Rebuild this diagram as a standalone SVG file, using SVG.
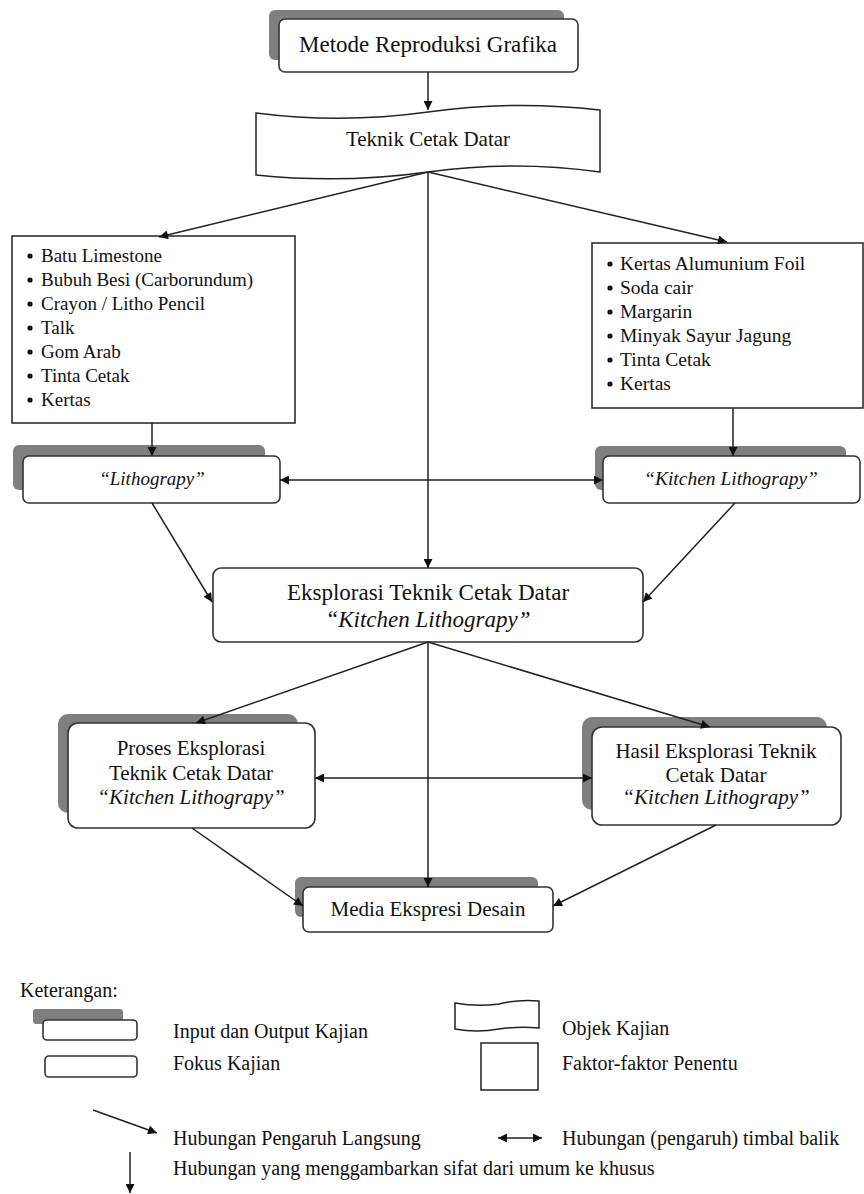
<svg xmlns="http://www.w3.org/2000/svg" width="864" height="1194" viewBox="0 0 864 1194">
<style>
  text { font-family: "Liberation Serif", "Times New Roman", serif; fill: #111111; }
  .it { font-style: italic; }
  .mid { text-anchor: middle; }
  .shadow { fill: #7f7f7f; }
  .box { fill: #ffffff; stroke: #333333; stroke-width: 1.6; }
  .sq { fill: #ffffff; stroke: #222222; stroke-width: 1.5; }
  .con line, .con path { stroke: #222222; stroke-width: 1.5; fill: none; }
  .dot { fill: #111111; }
</style>
<defs>
  <marker id="ah" viewBox="0 0 10 10" refX="10" refY="5" markerWidth="11" markerHeight="9" orient="auto-start-reverse" markerUnits="userSpaceOnUse">
    <path d="M0,0 L10,5 L0,10 z" fill="#111111"/>
  </marker>
</defs>

<rect width="864" height="1194" fill="#ffffff"/>

<g id="metode">
  <rect class="shadow" x="269" y="10" width="295" height="50" rx="6"/>
  <rect class="box" x="279" y="19" width="299" height="53" rx="6"/>
  <text class="mid" x="428" y="52" font-size="23">Metode Reproduksi Grafika</text>
</g>

<g id="teknik">
  <path class="sq" d="M256,113 Q342,124 428,112 Q514,100 600,110 L600,172 Q514,160 428,172 Q342,184 256,175 Z"/>
  <text class="mid" x="428" y="146" font-size="21">Teknik Cetak Datar</text>
</g>

<g id="faktor-kiri">
  <rect class="sq" x="12" y="236" width="283" height="187"/>
  <g font-size="19">
    <circle class="dot" cx="30" cy="256" r="2.6"/><text x="41" y="262">Batu Limestone</text>
    <circle class="dot" cx="30" cy="280" r="2.6"/><text x="41" y="286">Bubuh Besi (Carborundum)</text>
    <circle class="dot" cx="30" cy="304" r="2.6"/><text x="41" y="310">Crayon / Litho Pencil</text>
    <circle class="dot" cx="30" cy="328" r="2.6"/><text x="41" y="334">Talk</text>
    <circle class="dot" cx="30" cy="352" r="2.6"/><text x="41" y="358">Gom Arab</text>
    <circle class="dot" cx="30" cy="376" r="2.6"/><text x="41" y="382">Tinta Cetak</text>
    <circle class="dot" cx="30" cy="400" r="2.6"/><text x="41" y="406">Kertas</text>
  </g>
</g>

<g id="faktor-kanan">
  <rect class="sq" x="592" y="243" width="271" height="165"/>
  <g font-size="19.5">
    <circle class="dot" cx="610" cy="264" r="2.6"/><text x="620" y="270">Kertas Alumunium Foil</text>
    <circle class="dot" cx="610" cy="288" r="2.6"/><text x="620" y="294">Soda cair</text>
    <circle class="dot" cx="610" cy="312" r="2.6"/><text x="620" y="318">Margarin</text>
    <circle class="dot" cx="610" cy="336" r="2.6"/><text x="620" y="342">Minyak Sayur Jagung</text>
    <circle class="dot" cx="610" cy="360" r="2.6"/><text x="620" y="366">Tinta Cetak</text>
    <circle class="dot" cx="610" cy="384" r="2.6"/><text x="620" y="390">Kertas</text>
  </g>
</g>

<g id="lithograpy">
  <rect class="shadow" x="13" y="445" width="252" height="45" rx="6"/>
  <rect class="box" x="23" y="456" width="257" height="47" rx="6"/>
  <text class="mid it" x="152" y="485" font-size="19">“Lithograpy”</text>
</g>

<g id="kitchen-lithograpy">
  <rect class="shadow" x="595" y="446" width="251" height="44" rx="6"/>
  <rect class="box" x="603" y="456" width="257" height="47" rx="6"/>
  <text class="mid it" x="731" y="485" font-size="19.5">“Kitchen Lithograpy”</text>
</g>

<g id="eksplorasi">
  <rect class="box" x="213" y="568" width="430" height="74" rx="8"/>
  <text class="mid" x="428" y="600" font-size="23">Eksplorasi Teknik Cetak Datar</text>
  <text class="mid it" x="428" y="627" font-size="23">“Kitchen Lithograpy”</text>
</g>

<g id="proses">
  <rect class="shadow" x="58" y="714" width="240" height="99" rx="10"/>
  <rect class="box" x="68" y="723" width="247" height="105" rx="10"/>
  <text class="mid" x="191" y="755" font-size="21">Proses Eksplorasi</text>
  <text class="mid" x="191" y="780" font-size="21">Teknik Cetak Datar</text>
  <text class="mid it" x="191" y="804" font-size="21">“Kitchen Lithograpy”</text>
</g>

<g id="hasil">
  <rect class="shadow" x="582" y="717" width="245" height="93" rx="10"/>
  <rect class="box" x="592" y="727" width="249" height="98" rx="10"/>
  <text class="mid" x="716" y="758" font-size="21">Hasil Eksplorasi Teknik</text>
  <text class="mid" x="716" y="782" font-size="21">Cetak Datar</text>
  <text class="mid it" x="716" y="804" font-size="21">“Kitchen Lithograpy”</text>
</g>

<g id="media">
  <rect class="shadow" x="295" y="877" width="243" height="40" rx="6"/>
  <rect class="box" x="303" y="887" width="250" height="45" rx="6"/>
  <text class="mid" x="428" y="916" font-size="21">Media Ekspresi Desain</text>
</g>

<g id="connectors" class="con">
  <line x1="428" y1="72" x2="428" y2="110" marker-end="url(#ah)"/>
  <line x1="428" y1="172" x2="159" y2="237" marker-end="url(#ah)"/>
  <line x1="428" y1="172" x2="727" y2="242" marker-end="url(#ah)"/>
  <line x1="428" y1="172" x2="428" y2="568" marker-end="url(#ah)"/>
  <line x1="152" y1="423" x2="152" y2="456" marker-end="url(#ah)"/>
  <line x1="733" y1="408" x2="733" y2="456" marker-end="url(#ah)"/>
  <line x1="280" y1="480" x2="603" y2="480" marker-start="url(#ah)" marker-end="url(#ah)"/>
  <line x1="152" y1="503" x2="212" y2="602" marker-end="url(#ah)"/>
  <line x1="735" y1="503" x2="643" y2="602" marker-end="url(#ah)"/>
  <line x1="428" y1="642" x2="196" y2="723" marker-end="url(#ah)"/>
  <line x1="428" y1="642" x2="710" y2="727" marker-end="url(#ah)"/>
  <line x1="428" y1="642" x2="428" y2="887" marker-end="url(#ah)"/>
  <line x1="315" y1="778" x2="592" y2="778" marker-start="url(#ah)" marker-end="url(#ah)"/>
  <line x1="192" y1="828" x2="303" y2="906" marker-end="url(#ah)"/>
  <line x1="716" y1="825" x2="553" y2="906" marker-end="url(#ah)"/>
</g>

<g id="legend">
  <text x="20" y="997" font-size="20">Keterangan:</text>
  <rect class="shadow" x="33" y="1009" width="90" height="15" rx="3"/>
  <rect class="box" x="43" y="1020" width="94" height="20" rx="4"/>
  <text x="173" y="1038" font-size="20">Input dan Output Kajian</text>
  <rect class="box" x="45" y="1056" width="92" height="21" rx="4"/>
  <text x="173" y="1070" font-size="20">Fokus Kajian</text>
  <path class="sq" d="M455,1003 Q477,1007 499,1004 Q519,999 539,1001 L539,1028 Q519,1026 499,1029 Q477,1033 455,1029 Z"/>
  <text x="562" y="1035" font-size="20">Objek Kajian</text>
  <rect class="sq" x="481" y="1043" width="57" height="47"/>
  <text x="562" y="1070" font-size="20">Faktor-faktor Penentu</text>
  <g class="con">
    <line x1="93" y1="1110" x2="157" y2="1133" marker-end="url(#ah)"/>
    <line x1="498" y1="1138" x2="542" y2="1138" marker-start="url(#ah)" marker-end="url(#ah)"/>
    <line x1="130" y1="1152" x2="130" y2="1193" marker-end="url(#ah)"/>
  </g>
  <text x="173" y="1145" font-size="20">Hubungan Pengaruh Langsung</text>
  <text x="562" y="1145" font-size="20">Hubungan (pengaruh) timbal balik</text>
  <text x="173" y="1175" font-size="20">Hubungan yang menggambarkan sifat dari umum ke khusus</text>
</g>
</svg>
